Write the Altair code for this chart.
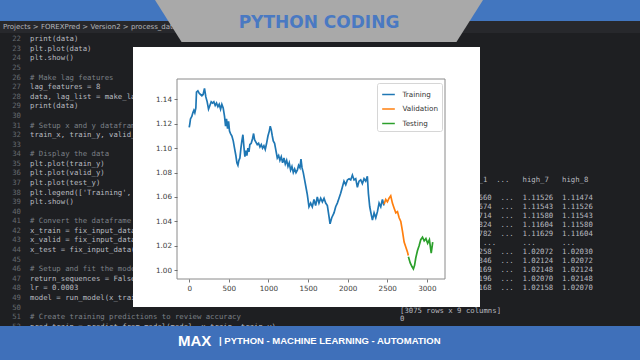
import altair as alt
import pandas as pd

# ---------------- chart data ----------------
train_idx = [0, 8, 16, 33, 46, 59, 71, 84, 92, 109, 126, 143, 160, 176, 193, 210, 227, 244, 261, 278,
             295, 311, 328, 345, 362, 379, 396, 412, 429, 446, 459, 471, 484, 497, 509, 522, 539, 556, 572, 589,
             602, 615, 627, 640, 653, 665, 678, 691, 703, 716, 728, 741, 754, 766, 783, 800, 813, 825, 842, 859,
             876, 893, 910, 926, 943, 960, 977, 994, 1011, 1023, 1036, 1049, 1061, 1078, 1095, 1112, 1129, 1145, 1162, 1179,
             1196, 1213, 1230, 1247, 1263, 1280, 1297, 1314, 1331, 1348, 1365, 1381, 1398, 1411, 1424, 1440, 1457, 1474, 1491, 1512,
             1533, 1554, 1575, 1596, 1617, 1638, 1660, 1681, 1702, 1723, 1744, 1765, 1778, 1799, 1828, 1849, 1870, 1891, 1912, 1933,
             1954, 1976, 1997, 2018, 2039, 2060, 2081, 2102, 2123, 2144, 2165, 2186, 2207, 2228, 2249, 2262, 2279, 2300, 2313, 2334,
             2355, 2376, 2397, 2418, 2439, 2459]
train_val = [1.117, 1.120, 1.124, 1.126, 1.129, 1.131, 1.129, 1.133, 1.146, 1.147, 1.145, 1.144, 1.143, 1.144, 1.149, 1.142, 1.138, 1.132, 1.135, 1.138,
             1.137, 1.138, 1.135, 1.137, 1.134, 1.136, 1.132, 1.136, 1.133, 1.126, 1.118, 1.124, 1.116, 1.122, 1.114, 1.112, 1.110, 1.106, 1.100, 1.094,
             1.088, 1.086, 1.090, 1.092, 1.100, 1.106, 1.111, 1.101, 1.093, 1.098, 1.094, 1.100, 1.097, 1.103, 1.104, 1.108, 1.112, 1.107, 1.105, 1.103,
             1.104, 1.101, 1.103, 1.100, 1.102, 1.099, 1.104, 1.110, 1.114, 1.118, 1.115, 1.110, 1.106, 1.104, 1.098, 1.092, 1.094, 1.090, 1.093, 1.088,
             1.092, 1.087, 1.090, 1.085, 1.088, 1.082, 1.085, 1.080, 1.083, 1.080, 1.082, 1.086, 1.084, 1.091, 1.084, 1.080, 1.074, 1.068, 1.062, 1.052,
             1.055, 1.052, 1.058, 1.053, 1.060, 1.055, 1.059, 1.056, 1.059, 1.055, 1.053, 1.044, 1.038, 1.043, 1.047, 1.052, 1.055, 1.059, 1.063, 1.068,
             1.073, 1.070, 1.074, 1.075, 1.074, 1.078, 1.074, 1.075, 1.068, 1.073, 1.074, 1.071, 1.075, 1.073, 1.077, 1.063, 1.052, 1.045, 1.041, 1.047,
             1.043, 1.048, 1.055, 1.052, 1.058, 1.053]
valid_idx = [2460, 2481, 2502, 2523, 2544, 2565, 2586, 2608, 2629, 2650, 2671, 2692, 2713, 2734, 2755, 2766]
valid_val = [1.054, 1.058, 1.056, 1.059, 1.061, 1.055, 1.051, 1.047, 1.048, 1.043, 1.040, 1.032, 1.023, 1.019, 1.015, 1.012]
test_idx = [2767, 2790, 2812, 2830, 2845, 2860, 2881, 2902, 2923, 2945, 2966, 2988, 3010, 3032, 3055, 3074]
test_val = [1.011, 1.006, 1.003, 1.001, 1.004, 1.010, 1.016, 1.020, 1.025, 1.027, 1.024, 1.026, 1.022, 1.025, 1.014, 1.023]

series_names = ["Training", "Validation", "Testing"]
series_colors = ["#1f77b4", "#ff7f0e", "#2ca02c"]
x_ticks = [0, 500, 1000, 1500, 2000, 2500, 3000]
y_ticks = [1.00, 1.02, 1.04, 1.06, 1.08, 1.10, 1.12, 1.14]

# ---------------- decorative screenshot texts (as far as visible) ----------------
breadcrumb = "Projects  >  FOREXPred  >  Version2  >  process_data.py"
code_lines = [
    "print(data)", "plt.plot(data)", "plt.show()", "",
    "# Make lag features", "lag_features = 8",
    "data, lag_list = make_lag", "print(data)", "",
    "# Setup x and y datafram",
    "train_x, train_y, valid_", "",
    "# Display the data", "plt.plot(train_y)", "plt.plot(valid_y)", "plt.plot(test_y)",
    "plt.legend(['Training', ", "plt.show()", "",
    "# Convert the dataframe ", "x_train = fix_input_data",
    "x_valid = fix_input_data", "x_test = fix_input_data(", "",
    "# Setup and fit the model", "return_sequences = False", "lr = 0.0003",
    "model = run_model(x_train", "",
    "# Create training predictions to review accuracy",
    "pred_train = predict_from_model(model, x_train, train_y)",
]
first_line_no = 22
term_lines = [
    " high_1  ...   high_7   high_8",
    "         ...",
    "1.11660  ...  1.11526  1.11474",
    "1.11674  ...  1.11543  1.11526",
    "1.11714  ...  1.11580  1.11543",
    "1.11824  ...  1.11604  1.11580",
    "1.11782  ...  1.11629  1.11604",
    "    ...  ...      ...      ...",
    "1.02258  ...  1.02072  1.02030",
    "1.02346  ...  1.02124  1.02072",
    "1.02169  ...  1.02148  1.02124",
    "1.02196  ...  1.02070  1.02148",
    "1.02168  ...  1.02158  1.02070",
]
term_footer = "[3075 rows x 9 columns]"
banner_text = "PYTHON CODING"
footer_logo = "MAX"
footer_text = "|  PYTHON - MACHINE LEARNING - AUTOMATION"

# ---------------- layout ----------------
W, H = 268, 200          # plot area
L, T = 177, 79           # plot area origin in the page
NB = "\u00a0"
def px(v):
    return v - L
def py(v):
    return v - T
def keep(s):
    return s.replace(" ", NB)

one = pd.DataFrame({"k": [0]})

def rect(x0, x1, y0, y1, color):
    return alt.Chart(one).mark_rect(color=color).encode(
        x=alt.value(px(x0)), x2=alt.value(px(x1)), y=alt.value(py(y0)), y2=alt.value(py(y1)))

def text(s, x, y, size, color, font="DejaVu Sans", weight="normal", align="left", baseline="middle"):
    return alt.Chart(one).mark_text(fontSize=size, color=color, font=font, fontWeight=weight,
                                    align=align, baseline=baseline).encode(
        x=alt.value(px(x)), y=alt.value(py(y)), text=alt.value(s))

code_df = pd.DataFrame({
    "num": [str(first_line_no + i) for i in range(len(code_lines))],
    "code": [keep(c) for c in code_lines],
    "comment": [c.startswith("#") for c in code_lines],
    "yp": [py(39.3 + i * 9.58) for i in range(len(code_lines))],
})
term_ys = [180, 189, 198, 207, 216, 225, 234, 243, 252, 261, 270, 279, 288]
term_df = pd.DataFrame({"t": [keep(t) for t in term_lines], "yp": [py(v) for v in term_ys]})

mono = dict(font="DejaVu Sans Mono", fontSize=7.3, baseline="middle")
code_nums = alt.Chart(code_df).mark_text(align="right", color="#666a70", **mono).encode(
    x=alt.value(px(21)), y=alt.Y("yp:Q", scale=None, axis=None), text="num:N")
code_text = alt.Chart(code_df).mark_text(align="left", **mono).encode(
    x=alt.value(px(30)), y=alt.Y("yp:Q", scale=None, axis=None), text="code:N",
    color=alt.condition(alt.datum.comment, alt.value("#7c8087"), alt.value("#b9bbc0")))
term_text = alt.Chart(term_df).mark_text(align="left", color="#b9bbc0", **mono).encode(
    x=alt.value(px(461)), y=alt.Y("yp:Q", scale=None, axis=None), text="t:N")

deco = [
    rect(0, 640, 0, 21, "#4276bf"),
    rect(0, 640, 21, 33, "#27282c"),
    text(breadcrumb, 3, 27, 7, "#b4b6bb"),
    code_nums, code_text, term_text,
    text(term_footer, 400, 310.5, 7.3, "#b9bbc0", font="DejaVu Sans Mono"),
    text("0", 400, 319, 7.3, "#b9bbc0", font="DejaVu Sans Mono"),
    alt.Chart(one).mark_point(
        shape="M -1 -0.128 L 1 -0.128 L 0.838 0.128 L -0.838 0.128 Z",
        size=328 * 328, filled=True, color="#a9a9a9", opacity=1, strokeWidth=0,
    ).encode(x=alt.value(px(319)), y=alt.value(py(21))),
    text(banner_text, 319, 28, 17, "#4a79c2", weight="bold", align="center", baseline="alphabetic"),
    rect(0, 640, 326, 360, "#3f70ba"),
    text(footer_logo, 178, 346, 15, "#ffffff", font="Liberation Sans", weight="bold", baseline="alphabetic"),
    text(footer_text, 219, 343.5, 9.5, "#ffffff", font="Liberation Sans", weight="bold", baseline="alphabetic"),
    rect(133, 480, 47, 307, "#ffffff"),
]

df = pd.concat([
    pd.DataFrame({"idx": train_idx, "value": train_val, "series": "Training"}),
    pd.DataFrame({"idx": valid_idx, "value": valid_val, "series": "Validation"}),
    pd.DataFrame({"idx": test_idx, "value": test_val, "series": "Testing"}),
], ignore_index=True)

axis_style = dict(title=None, grid=False, domain=False, tickSize=3, tickWidth=0.8, tickColor="#555555",
                  labelFont="DejaVu Sans", labelFontSize=7.2, labelColor="#3c3c3c", labelPadding=2.5,
                  zindex=1)

lines = alt.Chart(df).mark_line(strokeWidth=1.7).encode(
    x=alt.X("idx:Q", scale=alt.Scale(domain=[-154, 3229], nice=False, zero=False),
            axis=alt.Axis(values=x_ticks, format="d", **axis_style)),
    y=alt.Y("value:Q", scale=alt.Scale(domain=[0.9928, 1.1567], nice=False, zero=False),
            axis=alt.Axis(values=y_ticks, format=".2f", **axis_style)),
    color=alt.Color("series:N", scale=alt.Scale(domain=series_names, range=series_colors),
                    legend=alt.Legend(title=None, orient="none", legendX=200, legendY=4,
                                      symbolType="stroke", symbolSize=160, symbolStrokeWidth=1.5,
                                      labelFont="DejaVu Sans", labelFontSize=7.2, labelColor="#333333",
                                      labelOffset=6.5, rowPadding=3.5, padding=4,
                                      fillColor="#ffffff", strokeColor="#d6d6d6", cornerRadius=2)),
    order=alt.Order("idx:Q"),
)

frame = alt.Chart(one).mark_rect(fillOpacity=0, stroke="#8a8a8a", strokeWidth=1).encode(
    x=alt.value(0), x2=alt.value(W), y=alt.value(0), y2=alt.value(H))

chart = alt.layer(*deco, lines, frame).properties(
    width=W, height=H,
    padding={"left": L, "top": T, "right": 640 - L - W, "bottom": 360 - T - H},
    autosize=alt.AutoSizeParams(type="none"),
    background="#1e1f22",
).configure_view(strokeWidth=0)

chart.save("out.html", embed_options={"renderer": "svg", "actions": False})
